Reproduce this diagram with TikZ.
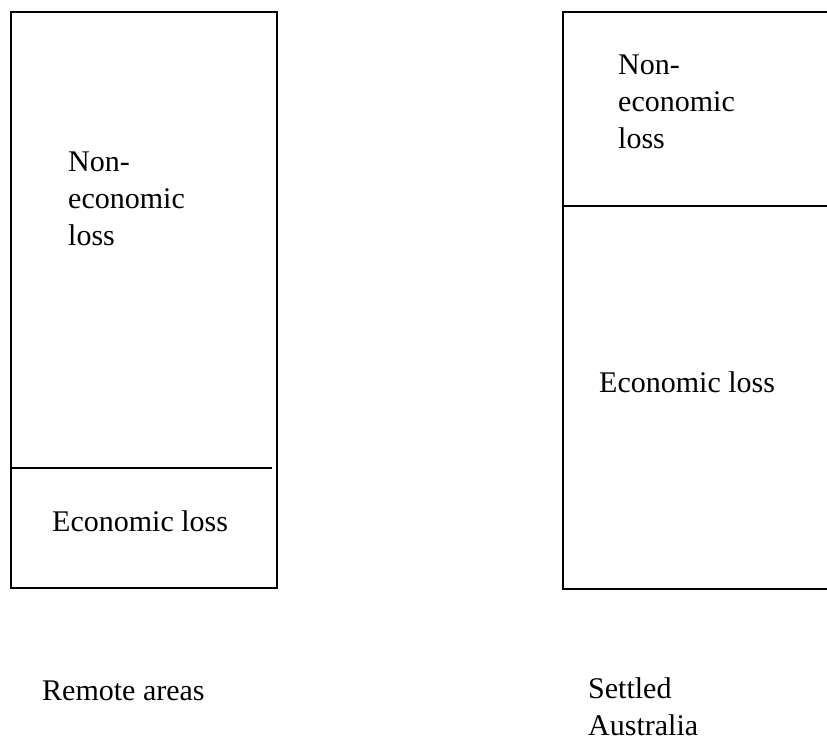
\documentclass[tikz,border=0pt]{standalone}
\usepackage{fontspec}
\setmainfont{Liberation Serif}
\begin{document}
\begin{tikzpicture}[x=1pt,y=-1pt,
  frame/.style={line width=2pt,black},
  % base anchor of a multi-line label sits on its last line
  lbl/.style={anchor=base west,inner sep=0pt,align=left,
    font=\fontsize{30}{37}\selectfont}]
\useasboundingbox (0,0) rectangle (827,740);

% Remote areas column
\draw[frame] (11,12) rectangle (277,588);
\draw[frame] (11,468) -- (272,468);
\node[lbl] (remNon) at (68,245) {Non-\\economic\\loss};
\node[lbl] (remEco) at (52,531) {Economic loss};
\node[lbl] (remCap) at (42,700) {Remote areas};

% Settled Australia column (runs off the right edge)
\draw[frame] (828,12) -- (563,12) -- (563,589) -- (828,589);
\draw[frame] (563,206) -- (828,206);
\node[lbl] (setNon) at (618,148) {Non-\\economic\\loss};
\node[lbl] (setEco) at (599,392) {Economic loss};
\node[lbl] (setCap) at (588,735) {Settled\\Australia};
\end{tikzpicture}
\end{document}
